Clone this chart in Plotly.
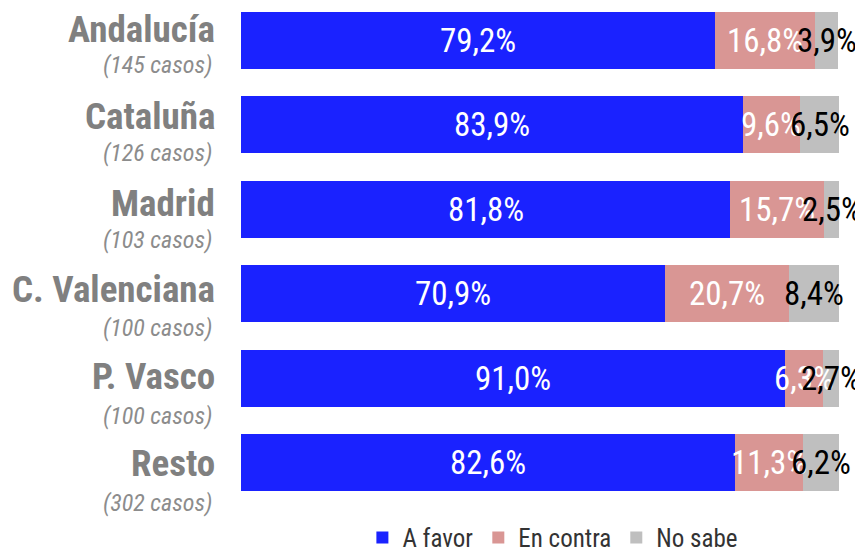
import plotly.graph_objects as go

regions = ["Andalucía", "Cataluña", "Madrid", "C. Valenciana", "P. Vasco", "Resto"]
casos = ["(145 casos)", "(126 casos)", "(103 casos)", "(100 casos)", "(100 casos)", "(302 casos)"]
a_favor = [79.2, 83.9, 81.8, 70.9, 91.0, 82.6]
en_contra = [16.8, 9.6, 15.7, 20.7, 6.3, 11.3]
no_sabe = [3.9, 6.5, 2.5, 8.4, 2.7, 6.2]
series_names = ["A favor", "En contra", "No sabe"]
colors = ["#1A22FF", "#D99694", "#BFBFBF"]
label_colors = ["white", "white", "black"]

NARROW = "Liberation Sans Narrow, Arial Narrow, Roboto Condensed, sans-serif"

ypos = list(range(len(regions)))
series = [a_favor, en_contra, no_sabe]

fig = go.Figure()
for name, vals, col in zip(series_names, series, colors):
    fig.add_trace(go.Bar(
        y=ypos, x=vals, name=name, orientation="h",
        marker=dict(color=col, line=dict(width=0)),
        width=0.67, hoverinfo="skip",
    ))

annotations = []
# segment value labels
for si, (vals, lc) in enumerate(zip(series, label_colors)):
    for i, v in enumerate(vals):
        start = sum(series[k][i] for k in range(si))
        annotations.append(dict(
            x=start + v / 2, y=i, xref="x", yref="y",
            text=f"{v:.1f}%".replace(".", ","), showarrow=False,
            font=dict(family=NARROW, size=33, color=lc),
            xanchor="center", yanchor="middle",
        ))

# category labels
for i, (r, c) in enumerate(zip(regions, casos)):
    annotations.append(dict(
        x=-0.04, y=i, xref="paper", yref="y", text=f"<b>{r}</b>",
        showarrow=False, xanchor="right", yanchor="middle",
        yshift=10.9 - 2.34 * i,
        font=dict(family=NARROW, size=37, color="#808080"),
    ))
    annotations.append(dict(
        x=-0.044, y=i, xref="paper", yref="y", text=f"<i>{c}</i>",
        showarrow=False, xanchor="right", yanchor="middle",
        yshift=-24.6 - 3.19 * i,
        font=dict(family=NARROW, size=24, color="#8c8c8c"),
    ))

fig.update_layout(
    width=855, height=544,
    margin=dict(l=233, r=24, t=0, b=34),
    paper_bgcolor="white", plot_bgcolor="white",
    barmode="stack",
    bargap=0.33,
    xaxis=dict(range=[0, 100], visible=False, fixedrange=True),
    yaxis=dict(range=[5.6176, -0.3824], visible=False, fixedrange=True),
    showlegend=True,
    legend=dict(
        orientation="h", x=0.203, xanchor="left",
        yref="container", y=0.026, yanchor="middle",
        font=dict(family=NARROW, size=25, color="#333333"),
        bgcolor="rgba(0,0,0,0)", traceorder="normal",
    ),
    annotations=annotations,
)

fig.write_html("out.html")
